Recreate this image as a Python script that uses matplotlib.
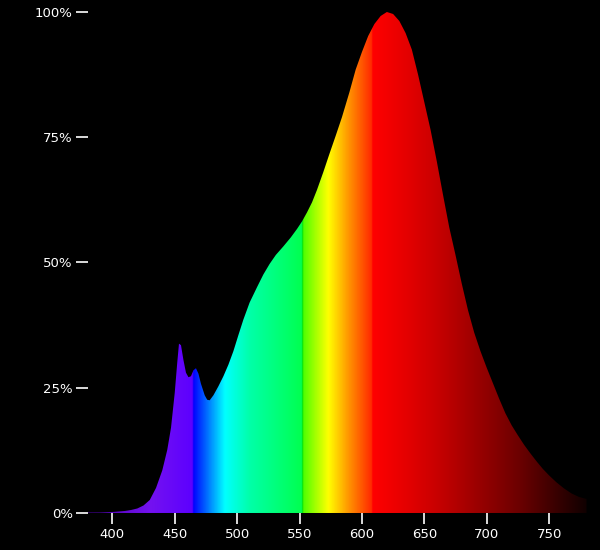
import numpy as np
import matplotlib
matplotlib.use("Agg")
import matplotlib.pyplot as plt
from matplotlib.colors import LinearSegmentedColormap
from matplotlib.patches import Polygon

# ---- Spectrum (wavelength nm, relative intensity %) ----
wavelength = [380, 390, 400, 410, 415, 420, 425, 430, 435, 440, 444, 447,
              450, 452, 453.4, 455, 457, 459, 461, 463, 465, 467, 469, 471,
              474, 476, 478, 481, 485, 489, 493, 497, 501, 505, 510, 516,
              521, 526, 531, 537, 543, 548, 552, 556, 560, 564, 569, 574,
              579, 584, 590, 595, 600, 605, 610, 615, 620, 625, 630, 635,
              640, 645, 650, 655, 660, 665, 670, 675, 680, 685, 690, 695,
              700, 705, 710, 715, 720, 725, 730, 735, 740, 745, 750, 756,
              762, 768, 774, 780]
intensity = [0.1, 0.1, 0.2, 0.4, 0.6, 0.9, 1.5, 2.6, 5.0, 8.5, 12.6, 17.0,
             24.0, 30.0, 33.8, 33.5, 30.5, 28.0, 27.1, 27.3, 28.5, 28.9, 27.8, 25.8,
             23.5, 22.6, 22.5, 23.5, 25.3, 27.3, 29.6, 32.3, 35.5, 38.6, 42.0, 45.1,
             47.6, 49.7, 51.5, 53.2, 55.0, 56.7, 58.2, 60.0, 62.0, 64.5, 68.0, 71.7,
             75.3, 79.0, 84.0, 88.5, 92.0, 95.2, 97.6, 99.2, 100.0, 99.6, 98.2, 95.8,
             92.5, 87.5, 82.0, 76.5, 70.2, 63.5, 57.0, 51.5, 45.8, 40.5, 36.0, 32.3,
             29.0, 25.9, 22.8, 19.9, 17.5, 15.5, 13.6, 11.9, 10.3, 8.8, 7.5, 6.1,
             4.9, 3.9, 3.2, 2.8]

x_ticks = [400, 450, 500, 550, 600, 650, 700, 750]
y_ticks = [0, 25, 50, 75, 100]
y_labels = ['0%', '25%', '50%', '75%', '100%']

# ---- wavelength -> colour stops (approximate the reference rendering) ----
W0, W1 = 380, 780
stops = [
    (380, '#4a00a8'), (430, '#7412f0'), (464.2, '#5c00ff'), (464.6, '#0000ff'),
    (490, '#00ffff'), (510, '#00ffa8'), (551.5, '#00ff50'), (552.2, '#00d800'),
    (553.2, '#50ff00'), (573, '#ffff00'), (590, '#ff9000'), (607.8, '#ff2800'),
    (608.6, '#ff0000'), (640, '#e00000'), (660, '#c80000'), (700, '#900000'),
    (727, '#6a0000'), (755, '#3a0000'), (780, '#100000'),
]
spec_cmap = LinearSegmentedColormap.from_list(
    'spectrum', [((w - W0) / (W1 - W0), c) for w, c in stops], N=1024)

fig = plt.figure(figsize=(6, 5.5), dpi=100, facecolor='black')
ax = fig.add_axes([0.1467, 0.0673, 0.8533, 0.9109])
ax.set_facecolor('black')

# Clip a horizontal colour gradient by the spectrum outline
outline = np.column_stack([[wavelength[0]] + wavelength + [wavelength[-1]],
                           [0] + intensity + [0]])
patch = Polygon(outline, closed=True, facecolor='none', edgecolor='none')
ax.add_patch(patch)
grad = np.linspace(W0, W1, 1200).reshape(1, -1)
im = ax.imshow(grad, extent=[W0, W1, 0, 100], aspect='auto', cmap=spec_cmap,
               vmin=W0, vmax=W1, interpolation='bilinear', origin='lower')
im.set_clip_path(patch)

ax.set_xlim(380.5, 790.8)
ax.set_ylim(0, 100)

for s in ax.spines.values():
    s.set_visible(False)

ax.set_xticks(x_ticks)
ax.set_xticklabels([str(t) for t in x_ticks])
ax.set_yticks(y_ticks)
ax.set_yticklabels(y_labels)
ax.tick_params(axis='x', colors='white', length=8, width=1.2, pad=3,
               labelsize=9.5, direction='out')
ax.tick_params(axis='y', colors='white', length=9, width=1.2, pad=2,
               labelsize=9.5, direction='out')

fig.savefig('out.png', dpi=100, facecolor='black')
